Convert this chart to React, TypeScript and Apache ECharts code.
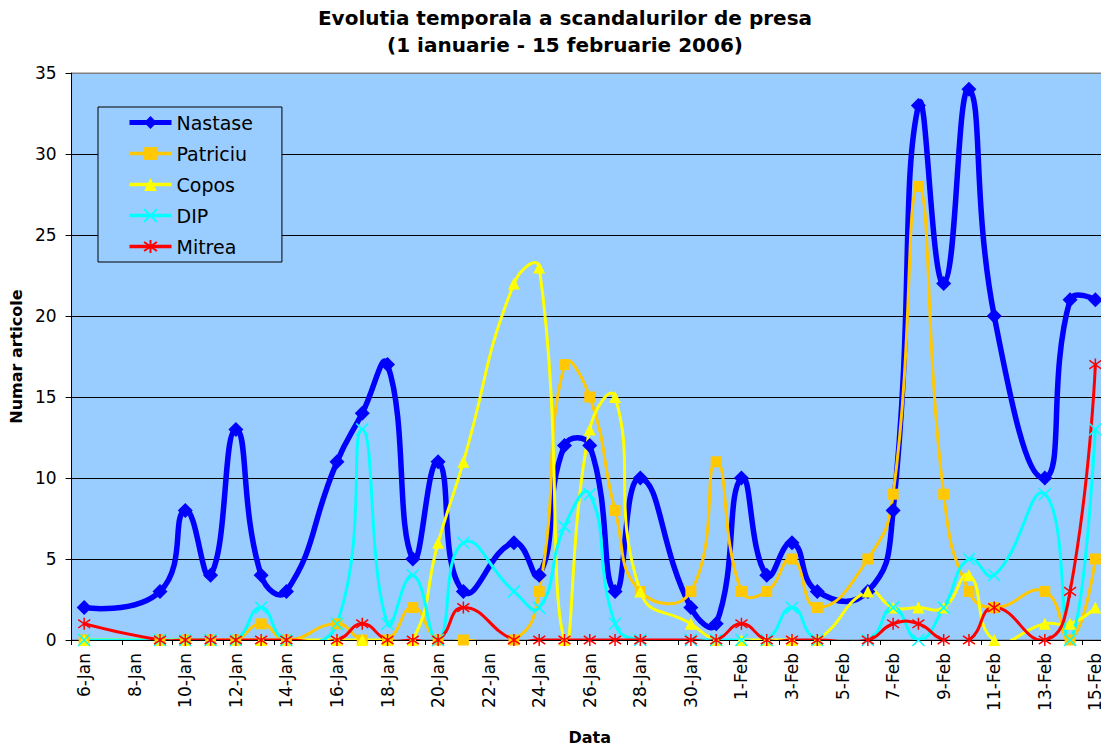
import React, { useEffect, useRef } from "react";
import * as echarts from "echarts";

// Every calendar day from 6-Jan to 15-Feb; days without data are null.
const dates = [
  "6-Jan", "7-Jan", "8-Jan", "9-Jan", "10-Jan", "11-Jan", "12-Jan", "13-Jan", "14-Jan", "15-Jan",
  "16-Jan", "17-Jan", "18-Jan", "19-Jan", "20-Jan", "21-Jan", "22-Jan", "23-Jan", "24-Jan", "25-Jan",
  "26-Jan", "27-Jan", "28-Jan", "29-Jan", "30-Jan", "31-Jan", "1-Feb", "2-Feb", "3-Feb", "4-Feb",
  "5-Feb", "6-Feb", "7-Feb", "8-Feb", "9-Feb", "10-Feb", "11-Feb", "12-Feb", "13-Feb", "14-Feb", "15-Feb",
];

const n = null;
const nastase = [2, n, n, 3, 8, 4, 13, 4, 3, n, 11, 14, 17, 5, 11, 3, n, 6, 4, 12, 12, 3, 10, n, 2, 1, 10, 4, 6, 3, n, 3, 8, 33, 22, 34, 20, n, 10, 21, 21];
const patriciu = [0, n, n, 0, 0, 0, 0, 1, 0, n, 1, 0, 0, 2, 0, 0, n, 0, 3, 17, 15, 8, 3, n, 3, 11, 3, 3, 5, 2, n, 5, 9, 28, 9, 3, 2, n, 3, 0, 5];
const copos = [0, n, n, 0, 0, 0, 0, 0, 0, n, 0, 0, 0, 0, 6, 11, n, 22, 23, 0, 13, 15, 3, n, 1, 0, 0, 0, 0, 0, n, 3, 2, 2, 2, 4, 0, n, 1, 1, 2];
const dip = [0, n, n, 0, 0, 0, 0, 2, 0, n, 1, 13, 1, 4, 0, 6, n, 3, 2, 7, 9, 1, 0, n, 0, 0, 0, 0, 2, 0, n, 0, 2, 0, 2, 5, 4, n, 9, 0, 13];
const mitrea = [1, n, n, 0, 0, 0, 0, 0, 0, n, 0, 1, 0, 0, 0, 2, n, 0, 0, 0, 0, 0, 0, n, 0, 0, 1, 0, 0, 0, n, 0, 1, 1, 0, 0, 2, n, 0, 3, 17];

const seriesNames = ["Nastase", "Patriciu", "Copos", "DIP", "Mitrea"];
const titleText = "Evolutia temporala a scandalurilor de presa\n(1 ianuarie - 15 februarie 2006)";
const yAxisName = "Numar articole";
const xAxisName = "Data";

const FONT = "DejaVu Sans";
const SMOOTH = 0.5;

type Pt = number[];

// Smoothed curve through the series' points (Excel-like, no clamping of control points),
// positioned through the chart's own axes via api.coord.
function curveSeries(name: string, values: (number | null)[], color: string, width: number) {
  return {
    type: "custom",
    name: name + " curve",
    coordinateSystem: "cartesian2d",
    data: [[0, 0]],
    clip: true,
    silent: true,
    renderItem: (_params: any, api: any) => {
      const pts: Pt[] = [];
      values.forEach((v, i) => {
        if (v !== null) pts.push(api.coord([i, v]));
      });
      const cpIn: Pt[] = [];
      const cpOut: Pt[] = [];
      for (let i = 0; i < pts.length; i++) {
        const p = pts[i];
        if (i === 0 || i === pts.length - 1) {
          cpIn[i] = p;
          cpOut[i] = p;
          continue;
        }
        const a = pts[i - 1];
        const b = pts[i + 1];
        const vx = b[0] - a[0];
        const vy = b[1] - a[1];
        const l0 = Math.hypot(p[0] - a[0], p[1] - a[1]);
        const l1 = Math.hypot(b[0] - p[0], b[1] - p[1]);
        const r = l0 + l1 > 0 ? l1 / (l0 + l1) : 0.5;
        cpOut[i] = [p[0] + vx * SMOOTH * r, p[1] + vy * SMOOTH * r];
        cpIn[i] = [p[0] - vx * SMOOTH * (1 - r), p[1] - vy * SMOOTH * (1 - r)];
      }
      const children: any[] = [];
      for (let i = 0; i < pts.length - 1; i++) {
        children.push({
          type: "bezierCurve",
          shape: {
            x1: pts[i][0],
            y1: pts[i][1],
            cpx1: cpOut[i][0],
            cpy1: cpOut[i][1],
            cpx2: cpIn[i + 1][0],
            cpy2: cpIn[i + 1][1],
            x2: pts[i + 1][0],
            y2: pts[i + 1][1],
          },
          style: { stroke: color, lineWidth: width, fill: null, lineCap: "round", lineJoin: "round" },
        });
      }
      return { type: "group", children };
    },
  };
}

function markerSeries(name: string, values: (number | null)[], symbol: string, size: number, itemStyle: any) {
  return {
    name,
    type: "line",
    data: values,
    connectNulls: true,
    showAllSymbol: true,
    symbol,
    symbolSize: size,
    lineStyle: { opacity: 0, width: 2, color: itemStyle.color },
    itemStyle,
    emphasis: { disabled: true },
  };
}

export default function App() {
  const ref = useRef<HTMLDivElement>(null);

  useEffect(() => {
    if (!ref.current) return;
    const chart = echarts.init(ref.current, undefined, { renderer: "svg" });

    const colors = ["#0000FF", "#FFC800", "#FFFF00", "#00FFFF", "#FF0000"];
    const widths = [5.5, 3, 3, 3, 3];
    const legendWidths = [5, 3.5, 3.5, 3.5, 3.5];

    const option: any = {
      animation: false,
      backgroundColor: "#ffffff",
      textStyle: { fontFamily: FONT },
      title: {
        text: titleText,
        left: "center",
        top: 4,
        padding: 0,
        textStyle: { fontFamily: FONT, fontSize: 20, fontWeight: "bold", color: "#000", lineHeight: 27 },
      },
      legend: {
        orient: "vertical",
        left: 98,
        top: 107,
        padding: [6, 29, 6, 29],
        itemGap: 12,
        itemWidth: 42,
        itemHeight: 16,
        backgroundColor: "#99CCFF",
        borderColor: "#000",
        borderWidth: 1,
        borderRadius: 0,
        textStyle: { fontFamily: FONT, fontSize: 19, color: "#000" },
        data: seriesNames.map((name, i) => ({
          name,
          lineStyle: { width: legendWidths[i], opacity: 1, color: colors[i] },
        })),
      },
      grid: {
        left: 71,
        top: 73,
        right: 22,
        bottom: 103,
        show: true,
        backgroundColor: "#99CCFF",
        borderColor: "#808080",
        borderWidth: 1,
        containLabel: false,
      },
      xAxis: {
        type: "category",
        data: dates,
        boundaryGap: true,
        name: xAxisName,
        nameLocation: "middle",
        nameGap: 89,
        nameTextStyle: { fontFamily: FONT, fontSize: 16, fontWeight: "bold", color: "#000" },
        axisLine: { show: true, lineStyle: { color: "#000", width: 1 } },
        axisTick: { show: true, interval: 1, length: 5, lineStyle: { color: "#000" } },
        axisLabel: { interval: 1, rotate: 90, margin: 13, fontFamily: FONT, fontSize: 17, color: "#000" },
        splitLine: { show: false },
      },
      yAxis: {
        type: "value",
        min: 0,
        max: 35,
        interval: 5,
        name: yAxisName,
        nameLocation: "middle",
        nameGap: 44,
        nameTextStyle: { fontFamily: FONT, fontSize: 16, fontWeight: "bold", color: "#000" },
        axisLine: { show: true, lineStyle: { color: "#000", width: 1 } },
        axisTick: { show: true, length: 6, lineStyle: { color: "#000" } },
        axisLabel: { margin: 15, fontFamily: FONT, fontSize: 17, color: "#000" },
        splitLine: {
          show: true,
          lineStyle: { color: ["#000", "#000", "#000", "#000", "#000", "#000", "#000", "#808080"], width: 1 },
        },
      },
      series: [
        curveSeries(seriesNames[0], nastase, colors[0], widths[0]),
        markerSeries(seriesNames[0], nastase, "diamond", 15, { color: colors[0] }),
        curveSeries(seriesNames[1], patriciu, colors[1], widths[1]),
        markerSeries(seriesNames[1], patriciu, "rect", 11, { color: colors[1] }),
        curveSeries(seriesNames[2], copos, colors[2], widths[2]),
        markerSeries(seriesNames[2], copos, "triangle", 12, { color: colors[2] }),
        curveSeries(seriesNames[3], dip, colors[3], widths[3]),
        markerSeries(seriesNames[3], dip, "path://M0 0L10 10M10 0L0 10", 12, {
          color: colors[3],
          borderColor: colors[3],
          borderWidth: 1.5,
        }),
        curveSeries(seriesNames[4], mitrea, colors[4], widths[4]),
        markerSeries(seriesNames[4], mitrea, "path://M5 0L5 10M0.7 1.5L9.3 8.5M9.3 1.5L0.7 8.5", 12, {
          color: colors[4],
          borderColor: colors[4],
          borderWidth: 1.5,
        }),
      ],
    };

    chart.setOption(option);
    return () => chart.dispose();
  }, []);

  return (
    <div
      style={{
        position: "fixed",
        left: 0,
        top: 0,
        width: 1101,
        height: 750,
        overflow: "hidden",
        background: "#fff",
      }}
    >
      <div ref={ref} style={{ width: 1130, height: 750 }} />
    </div>
  );
}
